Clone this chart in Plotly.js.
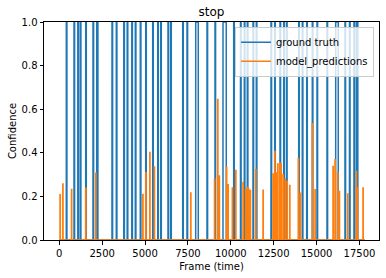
<!DOCTYPE html>
<html>
<head>
<meta charset="utf-8">
<script src="https://cdn.plot.ly/plotly-3.0.1.min.js"></script>
<style>
html,body{margin:0;padding:0;background:#fff;}
#chart{width:386px;height:278px;}
</style>
</head>
<body>
<div id="chart"></div>
<script>
// Ground truth: frames where the "stop" label switches on, and how many frames it stays on
const gtStart = [408, 857, 1079, 1224, 1539, 1965, 2180, 3072, 3323, 3760, 3958, 4227, 4431, 4722, 5037,
  5445, 5737, 5912, 6337, 6495, 7194, 7445, 7952, 8611, 9077, 9544, 10167, 10564, 10786, 10960,
  11293, 11485, 12342, 12558, 12867, 13083, 13246, 13957, 14167, 14424, 14750, 15024, 15607,
  16114, 16656, 16918, 17180, 17325];
const gtDur = [35, 35, 35, 35, 35, 35, 70, 35, 35, 35, 35, 35, 35, 35, 35,
  35, 35, 35, 35, 35, 35, 35, 150, 35, 35, 190, 35, 35, 35, 35,
  35, 35, 35, 35, 35, 35, 35, 35, 35, 35, 35, 35, 35,
  150, 35, 35, 35, 80];
// Model predictions: frames with a non-zero confidence and the confidence value
const predFrame = [41, 204, 711, 1539, 2122, 4868, 5043, 5276, 5539, 7661,
  9048, 9235, 9322, 9748, 9835, 10086, 10284, 10710, 10855, 10954, 11030, 11135, 11450, 11876,
  12459, 12558, 12651, 12733, 12850, 12925, 13042, 13159, 13276, 13433, 13934, 14050, 14750, 14908,
  15957, 16073, 16231, 16324, 16814, 17315, 17380, 17706];
const predValue = [0.208, 0.257, 0.232, 0.237, 0.306, 0.209, 0.309, 0.401, 0.335, 0.216,
  0.28, 0.645, 0.294, 0.334, 0.254, 0.239, 0.319, 0.264, 0.231, 0.242, 0.235, 0.227, 0.323, 0.228,
  0.303, 0.406, 0.307, 0.349, 0.352, 0.349, 0.299, 0.279, 0.27, 0.25, 0.374, 0.215, 0.533, 0.23,
  0.337, 0.368, 0.31, 0.222, 0.211, 0.314, 0.239, 0.239];
const firstFrame = 0, lastFrame = 17805;

// build step series
const gx = [firstFrame], gy = [0];
gtStart.forEach((s, i) => { gx.push(s, s + 1, s + gtDur[i], s + gtDur[i] + 1); gy.push(0, 1, 1, 0); });
gx.push(lastFrame); gy.push(0);
const px = [firstFrame], py = [0];
predFrame.forEach((f, i) => { px.push(f - 1, f, f + 15, f + 16); py.push(0, predValue[i], predValue[i], 0); });
px.push(lastFrame); py.push(0);

const font = {family: 'DejaVu Sans, sans-serif', size: 10, color: '#000'};
const traces = [
  {x: gx, y: gy, type: 'scatter', mode: 'lines', name: 'ground truth',
   line: {color: '#1f77b4', width: 1.5}},
  {x: px, y: py, type: 'scatter', mode: 'lines', name: 'model_predictions',
   line: {color: '#ff7f0e', width: 1.5}}
];
const axisCommon = {showline: true, mirror: true, linecolor: '#000', linewidth: 1, ticks: 'outside',
  ticklen: 3.5, tickwidth: 1, tickcolor: '#000', showgrid: false, zeroline: false, tickfont: font};
const layout = {
  width: 386, height: 278,
  margin: {l: 44, r: 7, t: 22, b: 38},
  paper_bgcolor: '#fff', plot_bgcolor: '#fff',
  font: font,
  title: {text: 'stop', font: {family: 'DejaVu Sans, sans-serif', size: 12, color: '#000'},
    x: 0.5, xref: 'paper', y: 1 - 12/278, yref: 'container', yanchor: 'middle'},
  xaxis: Object.assign({}, axisCommon, {range: [-892, 18640], tickvals: [0, 2500, 5000, 7500, 10000, 12500, 15000, 17500],
    ticktext: ['0', '2500', '5000', '7500', '10000', '12500', '15000', '17500'],
    title: {text: 'Frame (time)', font: font, standoff: 5}}),
  yaxis: Object.assign({}, axisCommon, {range: [0, 1], tickvals: [0, 0.2, 0.4, 0.6, 0.8, 1.0],
    ticktext: ['0.0', '0.2', '0.4', '0.6', '0.8', '1.0'],
    title: {text: 'Confidence', font: font, standoff: 3}}),
  showlegend: true,
  legend: {x: 0.985, xanchor: 'right', y: 0.978, yanchor: 'top', bgcolor: 'rgba(255,255,255,0.8)',
    bordercolor: '#cccccc', borderwidth: 1, font: font, tracegroupgap: 0, itemwidth: 30}
};
Plotly.newPlot('chart', traces, layout, {staticPlot: true, displayModeBar: false});
</script>
</body>
</html>
